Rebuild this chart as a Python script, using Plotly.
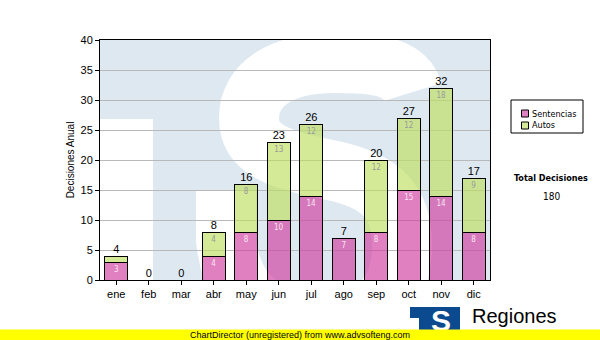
import plotly.graph_objects as go

# ---------------- data ----------------
months = ["ene", "feb", "mar", "abr", "may", "jun", "jul", "ago", "sep", "oct", "nov", "dic"]
sentencias = [3, 0, 0, 4, 8, 10, 14, 7, 8, 15, 14, 8]
autos = [1, 0, 0, 4, 8, 13, 12, 0, 12, 12, 18, 9]
totals = [s + a for s, a in zip(sentencias, autos)]
total_decisiones = sum(totals)

series_names = ["Sentencias", "Autos"]
y_title = "Decisiones Anual"
y_max, y_step = 40, 5
total_title = "Total Decisiones"
footer_text = "ChartDirector (unregistered) from www.advsofteng.com"
brand_text = "Regiones"
brand_sub = "Tribunal Supremo de Justicia"

# ---------------- styles ----------------
PINK = "rgba(208,60,158,0.65)"
GREEN = "rgba(189,223,94,0.65)"
PINK_SOLID = "#df80c0"
GREEN_SOLID = "#d4ea9a"
WATERMARK = "#dee8f1"
ARIAL = "Liberation Sans, Arial, sans-serif"
TAHOMA = "DejaVu Sans Condensed, DejaVu Sans, sans-serif"

W, H = 600, 340
L, R, T, B = 100, 490, 40, 280  # plot area in pixels


def paper(px, py):
    return (px - L) / (R - L), (B - py) / (B - T)


def wm(px, py):  # watermark design coordinates -> axis coordinates
    return (px - L) / (R - L) * len(months) - 0.5, (B - py) / (B - T) * y_max


def path_from(segs, conv):
    out = []
    for cmd, pts in segs:
        out.append(cmd + " ".join("%.4f,%.4f" % conv(*p) for p in pts))
    return " ".join(out)


S_PATH = [("M", [(413, 92)]),
          ("C", [(405, 66), (375, 63), (335, 63)]),
          ("C", [(280, 63), (249, 85), (249, 118)]),
          ("C", [(249, 150), (280, 160), (330, 170)]),
          ("C", [(385, 181), (402, 205), (402, 245)]),
          ("C", [(402, 300), (370, 322), (325, 322)]),
          ("C", [(270, 322), (232, 300), (226, 240)]),
          ("L", [(226, 190)])]

fig = go.Figure()

fig.add_bar(x=months, y=sentencias, name=series_names[0],
            marker=dict(color=PINK, line=dict(color="black", width=1)),
            text=sentencias, textposition="inside", insidetextanchor="end", textangle=0,
            textfont=dict(family=TAHOMA, size=8, color="#fbe4f2"),
            showlegend=False, hoverinfo="skip")
fig.add_bar(x=months, y=autos, name=series_names[1],
            marker=dict(color=GREEN, line=dict(color="black", width=1)),
            text=autos, textposition="inside", insidetextanchor="end", textangle=0,
            textfont=dict(family=TAHOMA, size=8, color="#9a9a9a"),
            showlegend=False, hoverinfo="skip")
fig.add_scatter(x=months, y=totals, mode="text", text=totals, textposition="top center",
                textfont=dict(family=ARIAL, size=11, color="black"),
                showlegend=False, hoverinfo="skip", cliponaxis=False)

shapes = []
# watermark (white parts of the faded logo)
x0, y0 = wm(L - 5, 119)
x1, y1 = wm(153, B + 5)
shapes.append(dict(type="rect", xref="x", yref="y", x0=x0, y0=y1, x1=x1, y1=y0,
                   fillcolor="white", line=dict(width=0), layer="below"))
shapes.append(dict(type="path", xref="x", yref="y", path=path_from(S_PATH, wm),
                   line=dict(color="white", width=60), fillcolor="rgba(0,0,0,0)", layer="below"))

# legend box
annotations = []
bx0, by0 = paper(511, 133)
bx1, by1 = paper(583, 100)
shapes.append(dict(type="rect", xref="paper", yref="paper", x0=bx0, y0=by0, x1=bx1, y1=by1,
                   fillcolor="white", line=dict(color="black", width=1), layer="above"))
for i, (name, col) in enumerate(zip(series_names, [PINK_SOLID, GREEN_SOLID])):
    cy = 113.5 + 12 * i
    sx0, sy0 = paper(521.5, cy + 3.5)
    sx1, sy1 = paper(528.5, cy - 3.5)
    shapes.append(dict(type="rect", xref="paper", yref="paper", x0=sx0, y0=sy0, x1=sx1, y1=sy1,
                       fillcolor=col, line=dict(color="black", width=1), layer="above"))
    tx, ty = paper(530, cy)
    annotations.append(dict(x=tx, y=ty, xref="paper", yref="paper", text=name, showarrow=False,
                            xanchor="left", yanchor="middle",
                            font=dict(family=TAHOMA, size=9, color="black")))

# total
tx, ty = paper(551, 178)
annotations.append(dict(x=tx, y=ty, xref="paper", yref="paper", text="<b>%s</b>" % total_title,
                        showarrow=False, xanchor="center", yanchor="middle",
                        font=dict(family=TAHOMA, size=9, color="black")))
tx, ty = paper(551, 196)
annotations.append(dict(x=tx, y=ty, xref="paper", yref="paper", text=str(total_decisiones),
                        showarrow=False, xanchor="center", yanchor="middle",
                        font=dict(family=TAHOMA, size=10, color="black")))

# logo at the bottom right
lx0, ly0 = paper(410, 331)
lx1, ly1 = paper(460, 307)
shapes.append(dict(type="rect", xref="paper", yref="paper", x0=lx0, y0=ly0, x1=lx1, y1=ly1,
                   fillcolor="#0b4a8e", line=dict(width=0), layer="above"))
wx0, wy0 = paper(410, 331)
wx1, wy1 = paper(419, 318)
shapes.append(dict(type="rect", xref="paper", yref="paper", x0=wx0, y0=wy0, x1=wx1, y1=wy1,
                   fillcolor="white", line=dict(width=0), layer="above"))
tx, ty = paper(441, 320)
annotations.append(dict(x=tx, y=ty, xref="paper", yref="paper", text="<b>S</b>", showarrow=False,
                        xanchor="center", yanchor="middle",
                        font=dict(family=ARIAL, size=30, color="white")))
tx, ty = paper(470, 316)
annotations.append(dict(x=tx, y=ty, xref="paper", yref="paper", text=brand_text, showarrow=False,
                        xanchor="left", yanchor="middle",
                        font=dict(family=ARIAL, size=20, color="black")))
tx, ty = paper(468, 327)
annotations.append(dict(x=tx, y=ty, xref="paper", yref="paper", text=brand_sub, showarrow=False,
                        xanchor="left", yanchor="top",
                        font=dict(family=ARIAL, size=9, color="black")))
# yellow footer band (drawn last, on top)
tx, ty = paper(300, 335)
annotations.append(dict(x=tx, y=ty, xref="paper", yref="paper", text=footer_text, showarrow=False,
                        xanchor="center", yanchor="middle", width=W, height=10, borderpad=0,
                        bgcolor="#ffff00", font=dict(family=ARIAL, size=9, color="black")))

fig.update_layout(
    width=W, height=H,
    margin=dict(l=L, r=W - R, t=T, b=H - B, pad=0),
    paper_bgcolor="white", plot_bgcolor=WATERMARK,
    barmode="stack", bargap=0.3,
    showlegend=False, hovermode=False,
    uniformtext=dict(minsize=8, mode="hide"),
    font=dict(family=ARIAL, size=11, color="black"),
    shapes=shapes, annotations=annotations,
)
fig.update_xaxes(type="category", categoryorder="array", categoryarray=months,
                 range=[-0.5, len(months) - 0.5], showline=True, linecolor="black", linewidth=1,
                 mirror=True, ticks="outside", ticklen=4, tickcolor="black", showgrid=False,
                 tickfont=dict(family=ARIAL, size=11, color="black"), fixedrange=True)
fig.update_yaxes(range=[0, y_max], dtick=y_step, showline=True, linecolor="black", linewidth=1,
                 mirror=True, ticks="outside", ticklen=4, tickcolor="black",
                 showgrid=True, gridcolor="#b9b9b9", gridwidth=1, zeroline=False,
                 tickfont=dict(family=ARIAL, size=11, color="black"),
                 title=dict(text=y_title, font=dict(family=ARIAL, size=10, color="black"), standoff=4),
                 fixedrange=True)

fig.write_html("out.html", config={"displayModeBar": False, "staticPlot": True})
